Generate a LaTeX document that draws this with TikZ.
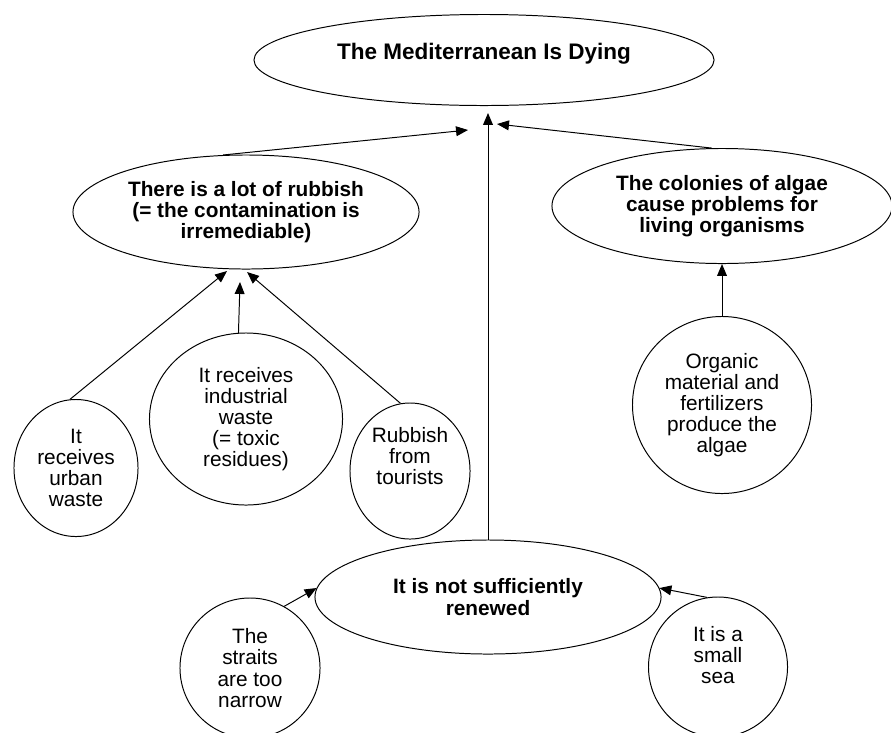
\documentclass[tikz,border=0pt]{standalone}
\usepackage{fontspec}
\setmainfont{Liberation Sans}
\usetikzlibrary{arrows.meta, shapes.geometric}

\begin{document}
\begin{tikzpicture}[x=0.025cm, y=-0.025cm, >={Triangle[length=8.5pt, width=7pt]}, line width=0.7pt,
  claim/.style={ellipse, draw, inner sep=0pt, align=center, font=\bfseries\fontsize{14.8}{15}\selectfont},
  reason/.style={ellipse, draw, inner sep=0pt, align=center, font=\fontsize{14.8}{15}\selectfont}]
  \clip (0,0) rectangle (891,732);
  % Main claim
  \node[claim, minimum width=11.5cm, minimum height=2.275cm, text depth=13pt, font=\bfseries\fontsize{16}{16}\selectfont] (dying) at (484,60) {The Mediterranean Is Dying};
  % Sub-claims
  \node[claim, minimum width=8.65cm, minimum height=2.85cm] (rubbish) at (246,212) {There is a lot of rubbish\\(= the contamination is\\irremediable)};
  \node[claim, minimum width=8.5cm, minimum height=2.875cm] (algae) at (722,206) {The colonies of algae\\cause problems for\\living organisms};
  \node[claim, minimum width=8.65cm, minimum height=2.85cm] (renewed) at (488,597) {It is not sufficiently\\renewed};
  % Reasons
  \node[reason, minimum width=3.1cm, minimum height=3.425cm] (urban) at (76,468) {It\\receives\\urban\\waste};
  \node[reason, minimum width=4.825cm, minimum height=4.3cm] (industrial) at (246,419) {It receives\\industrial\\waste\\(= toxic\\residues)};
  \node[reason, minimum width=3cm, minimum height=3.4cm, text depth=21pt] (tourists) at (410,471) {Rubbish\\from\\tourists};
  \node[reason, minimum width=4.475cm, minimum height=4.425cm] (organic) at (722,405) {Organic\\material and\\fertilizers\\produce the\\algae};
  \node[reason, minimum width=3.5cm, minimum height=3.5cm] (straits) at (250,668) {The\\straits\\are too\\narrow};
  \node[reason, minimum width=3.475cm, minimum height=3.5cm, text depth=17pt] (smallsea) at (718,667) {It is a\\small\\sea};
  % Free arrow tips
  \coordinate (tipL) at (468,130);
  \coordinate (tipM) at (488,113);
  \coordinate (tipR) at (497,124);
  \coordinate (tipA) at (227,271);
  \coordinate (tipB) at (240,282);
  \coordinate (tipC) at (247,272);
  % Connectors
  \draw[->] (rubbish.112) -- (tipL);
  \draw[->] (renewed.north) -- (tipM);
  \draw[->] (algae.100) -- (tipR);
  \draw[->] (urban.95) -- (tipA);
  \draw[->] (industrial.95) -- (tipB);
  \draw[->] (tourists.98) -- (tipC);
  \draw[->] (organic.north) -- (algae.south);
  \draw[->] (straits.61) -- (renewed.177);
  \draw[->] (smallsea.99) -- (renewed.3);
\end{tikzpicture}
\end{document}
